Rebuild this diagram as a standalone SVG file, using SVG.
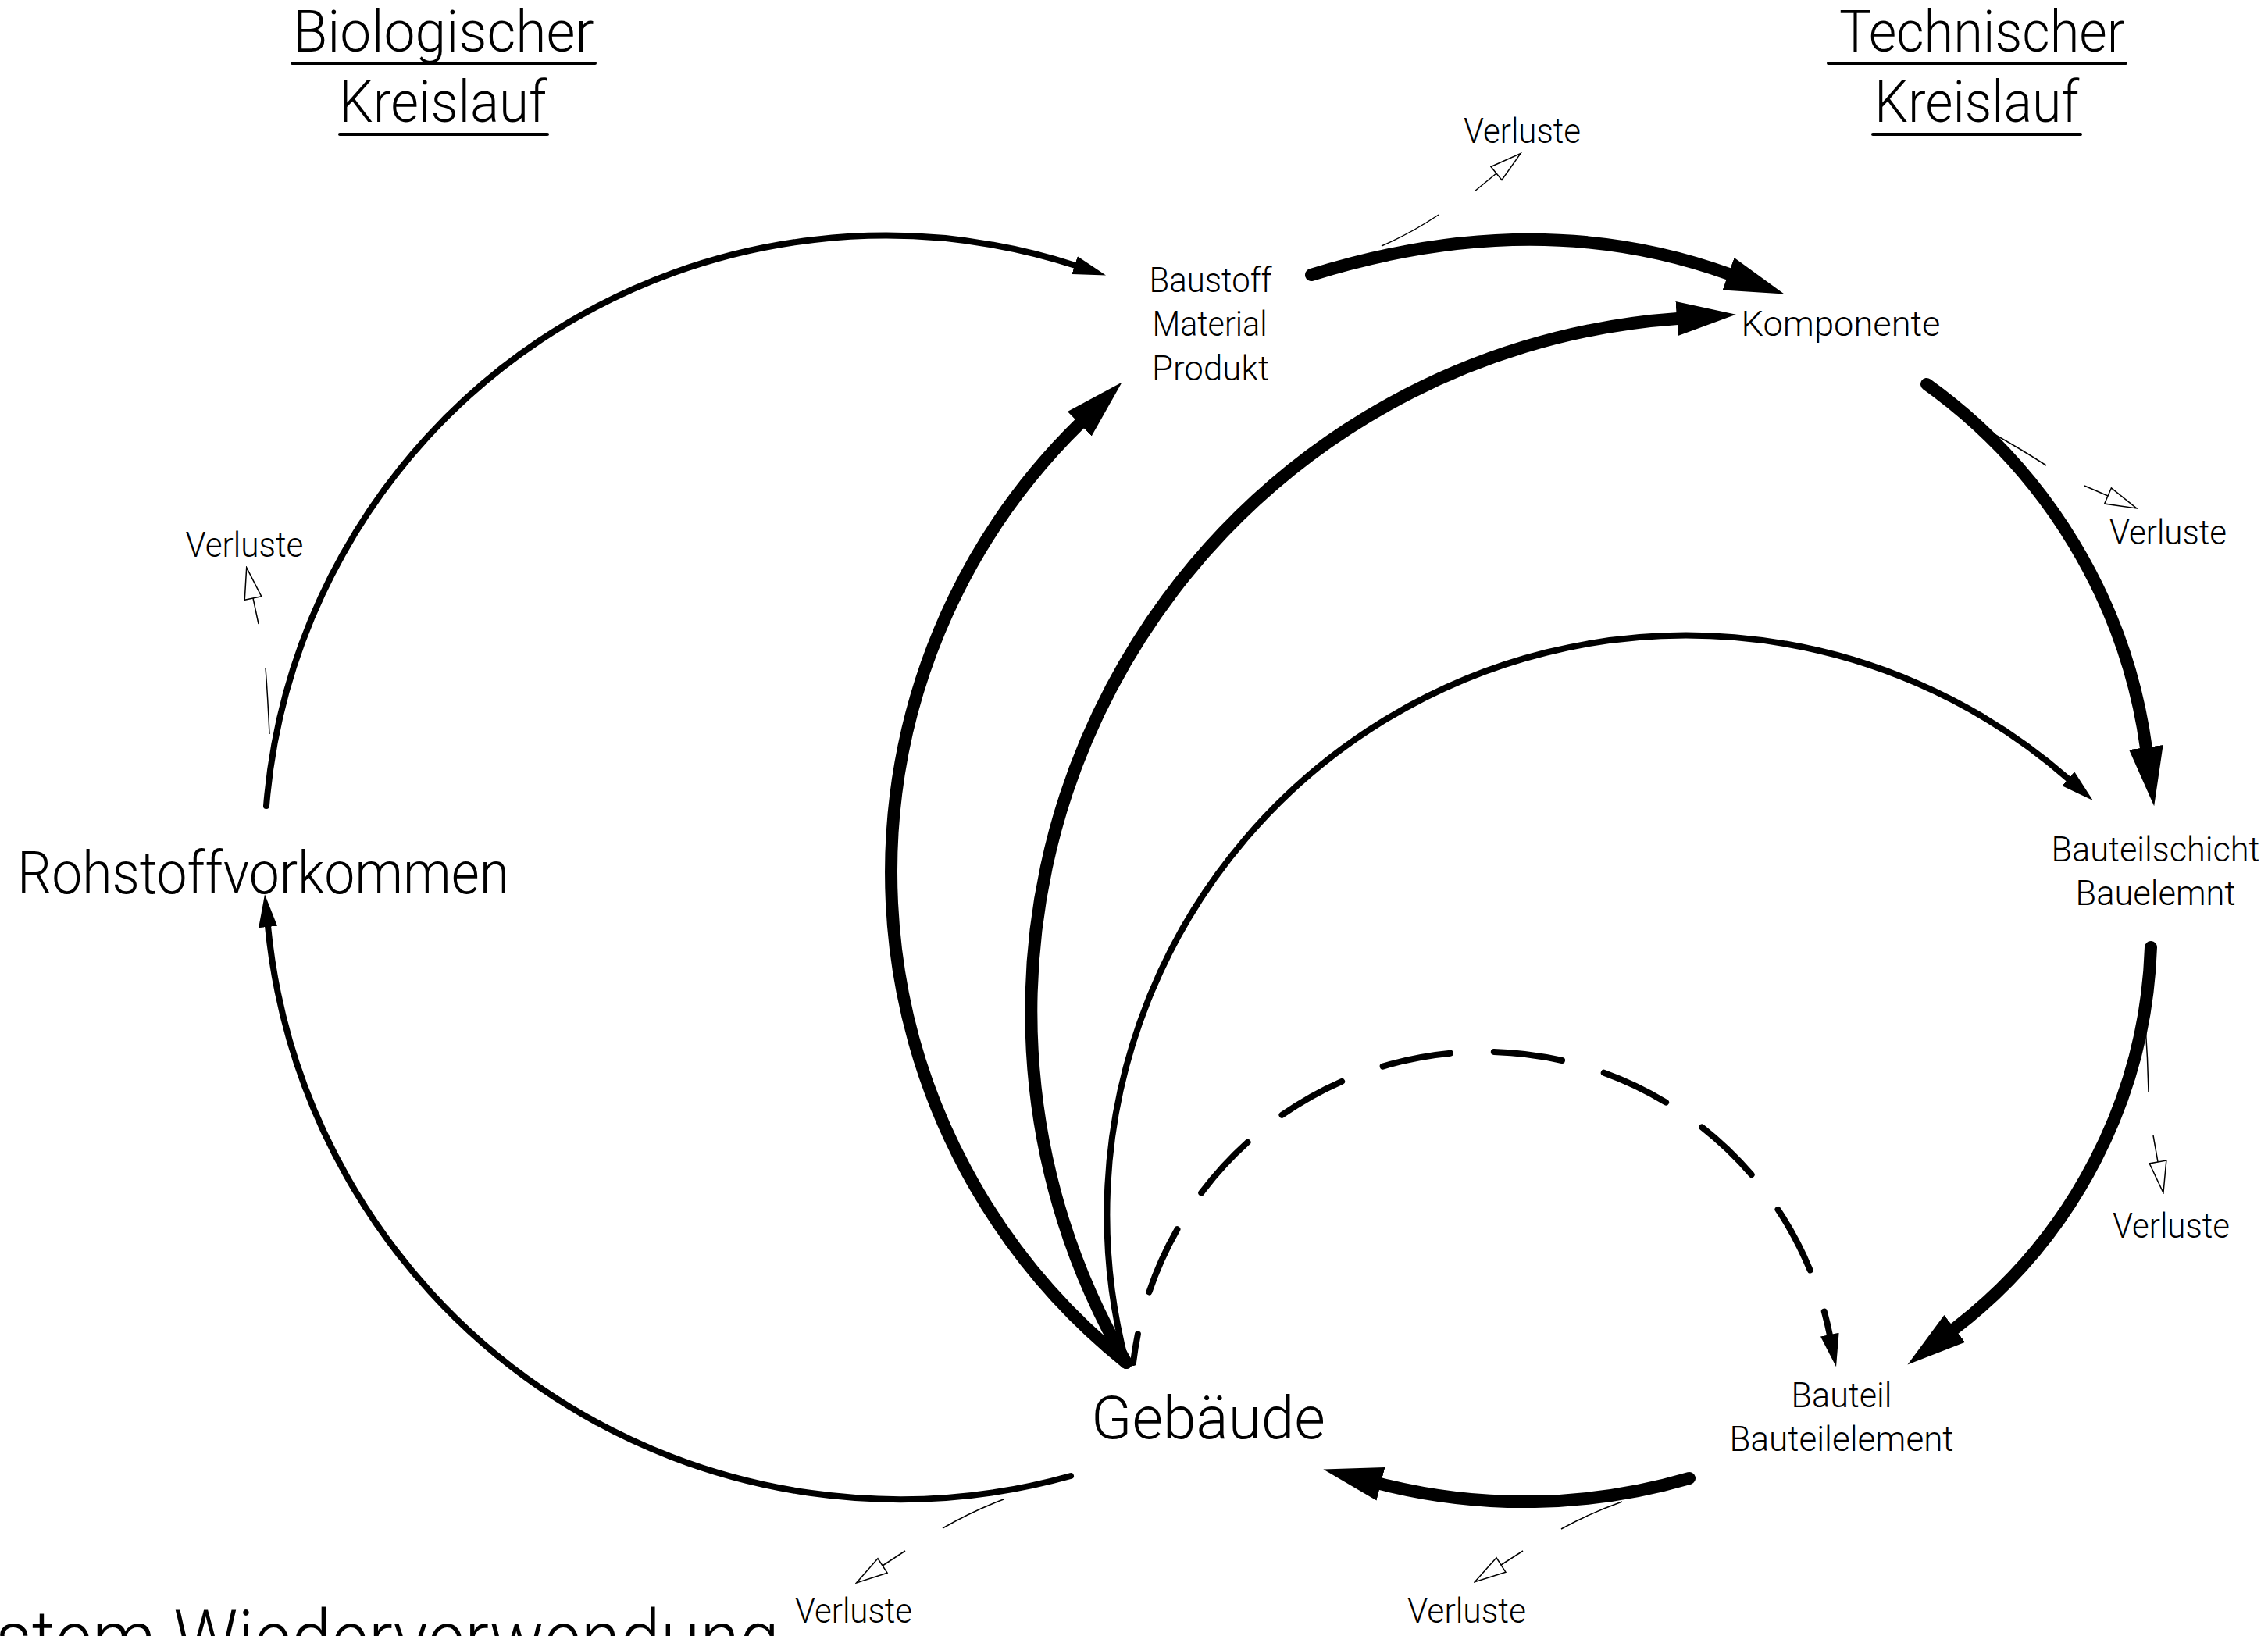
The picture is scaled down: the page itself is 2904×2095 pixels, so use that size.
<svg xmlns="http://www.w3.org/2000/svg" width="2904" height="2095" viewBox="0 0 2904 2095">
<style>
text { font-family: Roboto, "Liberation Sans", "DejaVu Sans", sans-serif; font-weight: 300; fill: #000; text-anchor: middle; }
.h { font-size: 75px; }
.n { font-size: 45px; }
.big { font-size: 76px; }
.v { font-size: 44px; }
.foot { font-size: 100px; text-anchor: start; }
.ul { stroke: #000; stroke-width: 4; stroke-linecap: round; }
.thick { fill: none; stroke: #000; stroke-width: 16; stroke-linecap: round; }
.med { fill: none; stroke: #000; stroke-width: 8; stroke-linecap: round; }
.dash { stroke-dasharray: 88 56; stroke-dashoffset: 51; }
.loss { fill: none; stroke: #000; stroke-width: 1.5; }
</style>
<defs>
<marker id="ahThick" markerUnits="userSpaceOnUse" viewBox="0 0 78 46" markerWidth="78" markerHeight="46" refX="1" refY="23" orient="auto"><path d="M0,1 L76,23 L0,45 z" fill="#000"/></marker>
<marker id="ahMed" markerUnits="userSpaceOnUse" viewBox="0 0 44 26" markerWidth="44" markerHeight="26" refX="1" refY="13" orient="auto"><path d="M0,1 L42,13 L0,25 z" fill="#000"/></marker>
<marker id="ahOpen" markerUnits="userSpaceOnUse" viewBox="-2 -2 44 26" markerWidth="44" markerHeight="26" refX="0" refY="11" orient="auto"><path d="M0,0 L40,11 L0,22 z" fill="#fff" stroke="#000" stroke-width="1.5"/></marker>
</defs>
<rect width="2904" height="2095" fill="#fff"/>

<g id="heading-bio">
<text class="h" x="568" y="66" textLength="385" lengthAdjust="spacingAndGlyphs">Biologischer</text>
<line class="ul" x1="374" y1="81" x2="762" y2="81"/>
<text class="h" x="567" y="156" textLength="266" lengthAdjust="spacingAndGlyphs">Kreislauf</text>
<line class="ul" x1="435" y1="172" x2="701" y2="172"/>
</g>
<g id="heading-tech">
<text class="h" x="2538" y="66" textLength="366" lengthAdjust="spacingAndGlyphs">Technischer</text>
<line class="ul" x1="2341" y1="81" x2="2722" y2="81"/>
<text class="h" x="2531" y="156" textLength="262" lengthAdjust="spacingAndGlyphs">Kreislauf</text>
<line class="ul" x1="2398" y1="172" x2="2664" y2="172"/>
</g>

<g id="node-baustoff">
<text class="n" x="1550" y="374" textLength="157" lengthAdjust="spacingAndGlyphs">Baustoff</text>
<text class="n" x="1549" y="430" textLength="147" lengthAdjust="spacingAndGlyphs">Material</text>
<text class="n" x="1550" y="487" textLength="150" lengthAdjust="spacingAndGlyphs">Produkt</text>
</g>
<g id="node-komponente">
<text class="n" x="2357" y="430" textLength="255" lengthAdjust="spacingAndGlyphs">Komponente</text>
</g>
<g id="node-bauteilschicht">
<text class="n" x="2760" y="1103" textLength="267" lengthAdjust="spacingAndGlyphs">Bauteilschicht</text>
<text class="n" x="2760" y="1159" textLength="205" lengthAdjust="spacingAndGlyphs">Bauelemnt</text>
</g>
<g id="node-bauteil">
<text class="n" x="2358" y="1802" textLength="129" lengthAdjust="spacingAndGlyphs">Bauteil</text>
<text class="n" x="2358" y="1858" textLength="287" lengthAdjust="spacingAndGlyphs">Bauteilelement</text>
</g>
<g id="node-gebaeude">
<text class="big" x="1547" y="1842" textLength="300" lengthAdjust="spacingAndGlyphs">Gebäude</text>
</g>
<g id="node-rohstoff">
<text class="big" x="337" y="1144" textLength="630" lengthAdjust="spacingAndGlyphs">Rohstoffvorkommen</text>
</g>

<g id="loss-top"><text class="v" x="1949" y="183" textLength="150" lengthAdjust="spacingAndGlyphs">Verluste</text></g>
<g id="loss-right-upper"><text class="v" x="2776" y="697" textLength="150" lengthAdjust="spacingAndGlyphs">Verluste</text></g>
<g id="loss-right-lower"><text class="v" x="2780" y="1585" textLength="150" lengthAdjust="spacingAndGlyphs">Verluste</text></g>
<g id="loss-bottom-right"><text class="v" x="1878" y="2078" textLength="152" lengthAdjust="spacingAndGlyphs">Verluste</text></g>
<g id="loss-bottom-left"><text class="v" x="1093" y="2078" textLength="150" lengthAdjust="spacingAndGlyphs">Verluste</text></g>
<g id="loss-left"><text class="v" x="313" y="713" textLength="151" lengthAdjust="spacingAndGlyphs">Verluste</text></g>

<g id="footer">
<text class="foot" x="-6" y="2133" textLength="1004" lengthAdjust="spacingAndGlyphs">stem Wiederverwendung</text>
</g>

<g id="connectors">
<path class="med" d="M341,1032 A795,795 0 0 1 1377,340" marker-end="url(#ahMed)"/>
<path class="med" d="M1371,1890 A813,813 0 0 1 343,1186" marker-end="url(#ahMed)"/>
<path class="thick" d="M1679,352 Q1968,262 2214,351" marker-end="url(#ahThick)"/>
<path class="thick" d="M1442,1745 A890,890 0 0 1 2148,408" marker-end="url(#ahThick)"/>
<path class="thick" d="M1442,1745 A805,805 0 0 1 1383,542" marker-end="url(#ahThick)"/>
<path class="med" d="M1442,1745 A742,742 0 0 1 2649,998" marker-end="url(#ahMed)"/>
<path class="med dash" d="M1451,1745 A452,452 0 0 1 2343,1710" marker-end="url(#ahMed)"/>
<path class="thick" d="M2467,492 A688,688 0 0 1 2748,958" marker-end="url(#ahThick)"/>
<path class="thick" d="M2754,1213 A644,644 0 0 1 2502,1702" marker-end="url(#ahThick)"/>
<path class="thick" d="M2163,1893 A753,753 0 0 1 1767,1900" marker-end="url(#ahThick)"/>

<path class="loss" d="M1769,315 Q1808,298 1842,275"/>
<path class="loss" d="M1888,245 L1916,222" marker-end="url(#ahOpen)"/>
<path class="loss" d="M2548,553 Q2586,574 2620,596"/>
<path class="loss" d="M2669,622 L2699,635" marker-end="url(#ahOpen)"/>
<path class="loss" d="M2747,1313 Q2750,1355 2751,1398"/>
<path class="loss" d="M2757,1454 L2763,1488" marker-end="url(#ahOpen)"/>
<path class="loss" d="M2077,1923 Q2035,1938 1999,1958"/>
<path class="loss" d="M1950,1986 L1922,2004" marker-end="url(#ahOpen)"/>
<path class="loss" d="M1285,1920 Q1245,1935 1207,1957"/>
<path class="loss" d="M1159,1986 L1130,2005" marker-end="url(#ahOpen)"/>
<path class="loss" d="M345,940 Q343,895 340,855"/>
<path class="loss" d="M331,799 L324,766" marker-end="url(#ahOpen)"/>
</g>
</svg>
